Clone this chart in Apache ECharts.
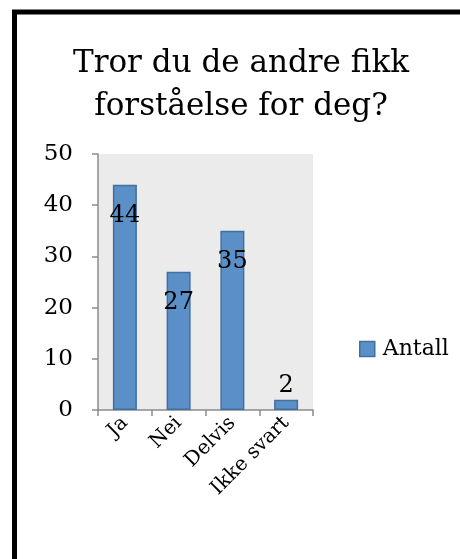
<!DOCTYPE html>
<html>
<head>
<meta charset="utf-8">
<script src="https://cdn.jsdelivr.net/npm/echarts@6/dist/echarts.min.js"></script>
<style>
  html, body { margin: 0; padding: 0; background: #fff; }
  #chart { width: 460px; height: 559px; }
</style>
</head>
<body>
<div id="chart"></div>
<script>
// svarkategorier og antall
const categories = ['Ja', 'Nei', 'Delvis', 'Ikke svart'];
const antall = [44, 27, 35, 2];
const yTicks = [0, 10, 20, 30, 40, 50];
const tittel = 'Tror du de andre fikk\nforståelse for deg?';

const font = 'DejaVu Serif';

const chart = echarts.init(document.getElementById('chart'), null, { renderer: 'canvas' });

// små verdier får etiketten over stolpen
const barData = antall.map(v => ({
  value: v,
  label: v < 10
    ? { position: 'top', distance: 2 }
    : { position: 'insideTop', distance: 19 }
}));

const option = {
  animation: false,
  graphic: [{
    type: 'rect',
    shape: { x: 14.5, y: 12, width: 520, height: 620 },
    style: { fill: null, stroke: '#000', lineWidth: 5 },
    silent: true
  }, {
    // tittelen er sentrert i rammen, ikke i vinduet
    type: 'text',
    x: 241,
    y: 42,
    silent: true,
    style: {
      text: tittel,
      textAlign: 'center',
      fontFamily: font,
      fontSize: 31,
      lineHeight: 43,
      fill: '#000'
    }
  }],
  legend: {
    left: 354,
    top: 333,
    icon: 'rect',
    itemWidth: 15,
    itemHeight: 15,
    itemGap: 4,
    textStyle: { fontFamily: font, fontSize: 22, color: '#000', padding: [0, 0, 0, 3] },
    itemStyle: { borderColor: '#41709c', borderWidth: 1.5 },
    data: ['Antall']
  },
  grid: {
    left: 98,
    top: 154,
    width: 215,
    height: 256,
    show: true,
    backgroundColor: '#ebebeb',
    borderWidth: 0
  },
  xAxis: {
    type: 'category',
    data: categories,
    boundaryGap: true,
    axisLine: { lineStyle: { color: '#8c8c8c', width: 1.5 } },
    axisTick: { show: true, alignWithLabel: false, length: 6, lineStyle: { color: '#8c8c8c', width: 1.5 } },
    axisLabel: {
      rotate: 45,
      interval: 0,
      margin: 10,
      fontFamily: font,
      fontSize: 20,
      color: '#000'
    }
  },
  yAxis: {
    type: 'value',
    min: yTicks[0],
    max: yTicks[yTicks.length - 1],
    interval: yTicks[1] - yTicks[0],
    axisLine: { show: true, lineStyle: { color: '#8c8c8c', width: 1.5 } },
    axisTick: { show: true, length: 6, lineStyle: { color: '#8c8c8c', width: 1.5 } },
    splitLine: { show: false },
    axisLabel: {
      margin: 25,
      fontFamily: font,
      fontSize: 23,
      color: '#000'
    }
  },
  series: [{
    name: 'Antall',
    type: 'bar',
    data: barData,
    barWidth: 24,
    itemStyle: {
      color: '#5b8fc8',
      borderColor: '#41709c',
      borderWidth: 1.5
    },
    label: {
      show: true,
      fontFamily: font,
      fontSize: 24,
      color: '#000'
    }
  }]
};

chart.setOption(option);
</script>
</body>
</html>
